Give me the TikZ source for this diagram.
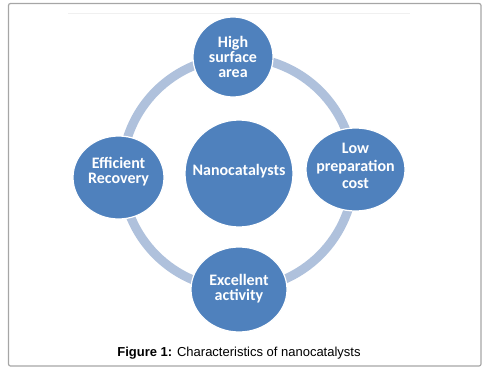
\documentclass[tikz,border=0pt]{standalone}
\usepackage{fontspec}
\setmainfont{Liberation Sans}
\newfontfamily\calfont{Carlito}
\usetikzlibrary{shapes.geometric}
\definecolor{bub}{HTML}{4F81BD}
\definecolor{ringc}{HTML}{AFC1DC}
\begin{document}
\begin{tikzpicture}[x=1pt,y=-1pt,
 bubble/.style={ellipse, fill=bub, draw=white, line width=1.2pt, inner sep=0pt},
 lbl/.style={text=white, font=\calfont\bfseries\fontsize{16}{15}\selectfont, align=center, inner sep=0pt}]
\useasboundingbox (0,0) rectangle (493,372);
\draw[black!35, line width=1.2pt, rounded corners=2pt] (8.5,3.5) rectangle (481,366);
\draw[black!6, line width=0.8pt] (68,13) -- (410,13);
\coordinate (c) at (238,173);
\draw[ringc, line width=9pt] (c) circle (116pt);
\node[bubble, minimum width=80pt, minimum height=80pt] (high) at (233,57) {};
\node[bubble, minimum width=99pt, minimum height=83pt] (low) at (355.5,169.5) {};
\node[bubble, minimum width=91pt, minimum height=83pt] (eff) at (118.5,177.5) {};
\node[bubble, minimum width=96pt, minimum height=85pt] (exc) at (239,289.5) {};
\node[bubble, minimum width=108pt, minimum height=107pt] (nano) at (239,173.5) {};
\node[lbl] (hight) at (233,57) {High\\surface\\area};
\node[lbl, font=\calfont\bfseries\fontsize{16}{17.5}\selectfont] (lowt) at (355.5,166) {Low\\prepara\kern0pt tion\\cost};
\node[lbl, font=\calfont\bfseries\fontsize{16}{15}\selectfont] (efft) at (118.5,172) {Efficient\\Recovery};
\node[lbl, font=\calfont\bfseries\fontsize{16}{15}\selectfont] (exct) at (239,289) {Excellent\\acti\kern0pt vity};
\node[lbl] (nanot) at (239,171) {Nanocatalysts};
\node[anchor=base, inner sep=0pt, font=\fontsize{13}{15}\selectfont] (cap) at (239,356) {\textbf{Figure 1:} Characteristics of nanocatalysts};
\end{tikzpicture}
\end{document}
